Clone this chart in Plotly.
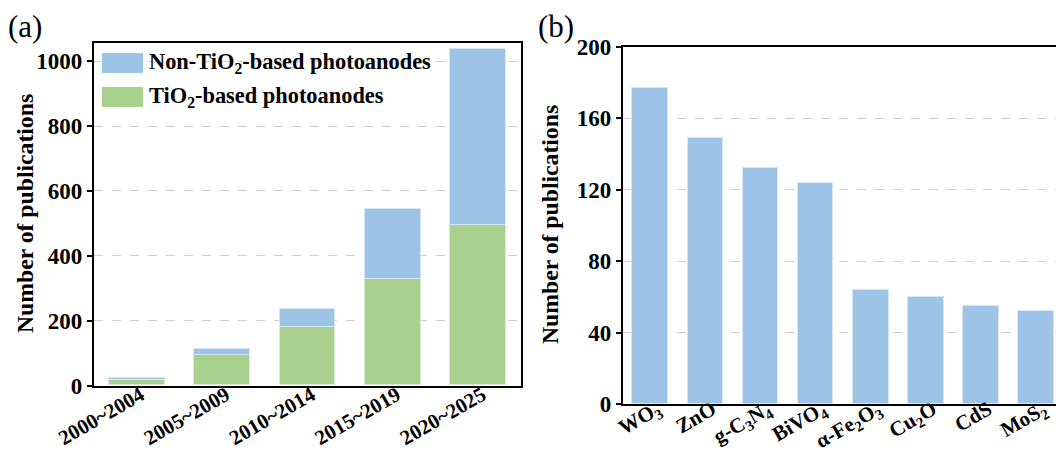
import plotly.graph_objects as go

# Panel (a): publications per period, split by photoanode type
periods = ["2000~2004", "2005~2009", "2010~2014", "2015~2019", "2020~2025"]
tio2_based = [15, 94, 179, 328, 495]
non_tio2_based = [7, 17, 56, 215, 543]

# Panel (b): publications per non-TiO2 material
materials = ["WO3", "ZnO", "g-C3N4", "BiVO4", "a-Fe2O3", "Cu2O", "CdS", "MoS2"]
material_labels = ["WO<sub>3</sub>", "ZnO", "g-C<sub>3</sub>N<sub>4</sub>", "BiVO<sub>4</sub>",
                   "α-Fe<sub>2</sub>O<sub>3</sub>", "Cu<sub>2</sub>O", "CdS", "MoS<sub>2</sub>"]
material_counts = [177, 149, 132, 124, 64, 60, 55, 52]

yticks_a = [0, 200, 400, 600, 800, 1000]
yticks_b = [0, 40, 80, 120, 160, 200]

BLUE = "#9DC3E6"
GREEN = "#A9D18E"
FONT = "Liberation Serif"
W, H = 1056, 453

fig = go.Figure()
fig.add_trace(go.Bar(x=periods, y=tio2_based, marker=dict(color=GREEN, line=dict(color="#d9ecd0", width=1)),
                     width=0.655, xaxis="x", yaxis="y", showlegend=False))
fig.add_trace(go.Bar(x=periods, y=non_tio2_based, marker=dict(color=BLUE, line=dict(color="#d6e6f5", width=1)),
                     width=0.655, xaxis="x", yaxis="y", showlegend=False))
fig.add_trace(go.Bar(x=materials, y=material_counts, marker=dict(color=BLUE, line=dict(color="#d6e6f5", width=1)),
                     width=0.648, xaxis="x2", yaxis="y2", showlegend=False))

ytickfont = dict(family=FONT, size=23, color="black", weight="bold")
xtickfont = dict(family=FONT, size=21, color="black", weight="bold")
axis_common = dict(showline=True, linecolor="black", linewidth=2.2, zeroline=False, automargin=False)

fig.update_layout(
    width=W, height=H,
    margin=dict(l=0, r=0, t=0, b=0, pad=0),
    paper_bgcolor="white", plot_bgcolor="white",
    barmode="stack", bargap=0,
    xaxis=dict(domain=[94 / W, 521 / W], range=[-0.5, 4.5], type="category",
               tickangle=-30, tickfont=xtickfont, ticks="", ticklabelstandoff=-13, ticklabelshift=4,
               mirror=True, showgrid=False, anchor="y", **axis_common),
    yaxis=dict(domain=[(H - 385.5) / H, (H - 43.3) / H], range=[0, 1055],
               tickvals=yticks_a, tickfont=ytickfont, ticks="outside", ticklen=5, tickwidth=2,
               tickcolor="black", mirror=True, showgrid=True, gridcolor="#cfcfcf",
               griddash="dash", gridwidth=1, anchor="x", **axis_common),
    xaxis2=dict(domain=[623 / W, 1.0], range=[-0.494, 7.36], type="category",
                tickvals=materials, ticktext=material_labels,
                tickangle=-30, tickfont=xtickfont, ticks="", ticklabelstandoff=-17, ticklabelshift=7,
                mirror=True, showgrid=False, anchor="y2", **axis_common),
    yaxis2=dict(domain=[(H - 404) / H, (H - 46.7) / H], range=[0, 200],
                tickvals=yticks_b, tickfont=ytickfont, ticks="outside", ticklen=5, tickwidth=2,
                tickcolor="black", mirror=False, showgrid=True, gridcolor="#cfcfcf",
                griddash="dash", gridwidth=1, anchor="x2", **axis_common),
)

# Hand-drawn legend for panel (a)
legend_rows = [("Non-TiO<sub>2</sub>-based photoanodes", BLUE, 63),
               ("TiO<sub>2</sub>-based photoanodes", GREEN, 97)]
for text, color, yc in legend_rows:
    fig.add_shape(type="rect", xref="paper", yref="paper",
                  x0=102 / W, x1=143 / W, y0=(H - yc - 10) / H, y1=(H - yc + 10) / H,
                  fillcolor=color, line=dict(width=0), layer="above")
    fig.add_annotation(x=147 / W, y=(H - yc) / H, xref="paper", yref="paper",
                       text=text, showarrow=False, xanchor="left", yanchor="middle",
                       font=dict(family=FONT, size=22.4, color="black", weight="bold"))

# Axis titles
for xc, yc in [(25, 214), (550, 225)]:
    fig.add_annotation(x=xc / W, y=(H - yc) / H, xref="paper", yref="paper",
                       text="Number of publications", textangle=-90, showarrow=False,
                       xanchor="center", yanchor="middle",
                       font=dict(family=FONT, size=23.7, color="black", weight="bold"))

# Panel letters
for label, xl in [("(a)", 6), ("(b)", 536)]:
    fig.add_annotation(x=xl / W, y=(H - 27) / H, xref="paper", yref="paper",
                       text=label, showarrow=False, xanchor="left", yanchor="middle",
                       font=dict(family=FONT, size=31, color="black"))

fig.write_html("out.html")
